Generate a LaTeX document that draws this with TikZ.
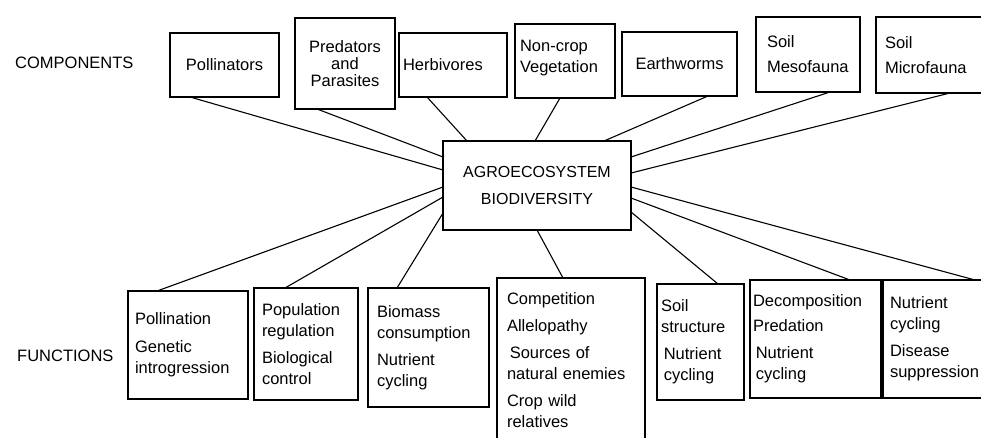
\documentclass[tikz,border=0pt]{standalone}
\usepackage{fontspec}
\setmainfont{Liberation Sans}
\begin{document}
\begin{tikzpicture}[x=1pt,y=-1pt,
  box/.style={draw, line width=1.4pt, inner ysep=0pt, outer sep=0pt, anchor=north west,
    font=\fontsize{16.5}{21}\selectfont},
  cbox/.style={box, align=center, inner xsep=0pt},
  lbox/.style={box, align=left},
  conn/.style={line width=1.1pt},
  lab/.style={anchor=west, inner sep=0pt, font=\fontsize{16.5}{20}\selectfont}]
\useasboundingbox (0,0) rectangle (981,437);
\clip (0,0) rectangle (981,437);

% labels
\node[lab] (comp) at (15,63) {COMPONENTS};
\node[lab] (func) at (17,356) {FUNCTIONS};

% top boxes
\node[cbox, minimum width=109pt, minimum height=64pt] (poll) at (170,33) {Pollinators};
\node[cbox, minimum width=100pt, minimum height=91pt] (pred) at (295,18) {Predators\\[-4pt]and\\[-4pt]Parasites};
\node[lbox, inner xsep=4pt, text width=100pt, minimum height=64pt] (herb) at (399,33) {Herbivores};
\node[lbox, inner xsep=5pt, text width=90pt, minimum height=74pt] (noncrop) at (515,24) {Non-crop\\Vegetation\\[-12pt]\mbox{}};
\node[cbox, minimum width=115pt, minimum height=64pt] (earth) at (622,32) {Earthworms};
\node[lbox, inner xsep=11pt, text width=82pt, minimum height=75pt] (meso) at (756,17) {Soil\\[4pt]Mesofauna};
\node[lbox, inner xsep=9pt, text width=106pt, minimum height=76pt] (micro) at (876,17) {Soil\\[4pt]Microfauna};

% centre box
\node[cbox, minimum width=188pt, minimum height=89pt, font=\fontsize{16}{27}\selectfont] (agro) at (443,141) {AGROECOSYSTEM\\BIODIVERSITY};

% bottom boxes
\node[lbox, inner xsep=7pt, text width=106pt, minimum height=108pt] (pollin) at (128,291) {Pollination\\[7pt]Genetic\\introgression};
\node[lbox, inner xsep=8pt, text width=88pt, minimum height=112pt] (popul) at (254,288) {Population\\regulation\\[6pt]Biological\\control};
\node[lbox, inner xsep=9pt, text width=103pt, minimum height=119pt] (biomass) at (368,288) {Biomass\\consumption\\[6pt]Nutrient\\cycling};
\node[lbox, inner xsep=10pt, text width=128pt, minimum height=165pt] (compet) at (497,278) {Competition\\[6pt]Allelopathy\\[6pt]\,Sources of\\natural enemies\\[6pt]Crop wild\\relatives};
\node[lbox, inner xsep=4pt, text width=79pt, minimum height=116pt] (soilst) at (657,284) {Soil\\structure\\[6pt]\,Nutrient\\\,cycling};
\node[lbox, inner xsep=3pt, text width=125pt, minimum height=118pt] (decomp) at (750,280) {Decomposition\\[4pt]Predation\\[6pt]\,Nutrient\\\,cycling};
\node[lbox, inner xsep=7pt, text width=110pt, minimum height=118pt] (nutcyc) at (883,280) {Nutrient\\cycling\\[6pt]Disease\\suppression};

% connectors: components
\draw[conn] ([xshift=20pt]poll.south west) -- ([yshift=-29pt]agro.north west);
\draw[conn] ([xshift=22pt]pred.south west) -- ([yshift=-16pt]agro.north west);
\draw[conn] ([xshift=28pt]herb.south west) -- ([xshift=24pt]agro.north west);
\draw[conn] ([xshift=45pt]noncrop.south west) -- ([xshift=92pt]agro.north west);
\draw[conn] ([xshift=86pt]earth.south west) -- ([xshift=161pt]agro.north west);
\draw[conn] ([xshift=74pt]meso.south west) -- ([yshift=-16pt]agro.north east);
\draw[conn] ([xshift=74pt]micro.south west) -- ([yshift=-32pt]agro.north east);

% connectors: functions
\draw[conn] ([xshift=29pt]pollin.north west) -- ([yshift=-46pt]agro.north west);
\draw[conn] ([xshift=31pt]popul.north west) -- ([yshift=-56pt]agro.north west);
\draw[conn] ([xshift=29pt]biomass.north west) -- ([yshift=-72pt]agro.north west);
\draw[conn] ([xshift=66pt]compet.north west) -- ([xshift=94pt]agro.south west);
\draw[conn] ([xshift=61pt]soilst.north west) -- ([yshift=-71pt]agro.north east);
\draw[conn] ([xshift=100pt]decomp.north west) -- ([yshift=-57pt]agro.north east);
\draw[conn] ([xshift=92pt]nutcyc.north west) -- ([yshift=-46pt]agro.north east);
\end{tikzpicture}
\end{document}
